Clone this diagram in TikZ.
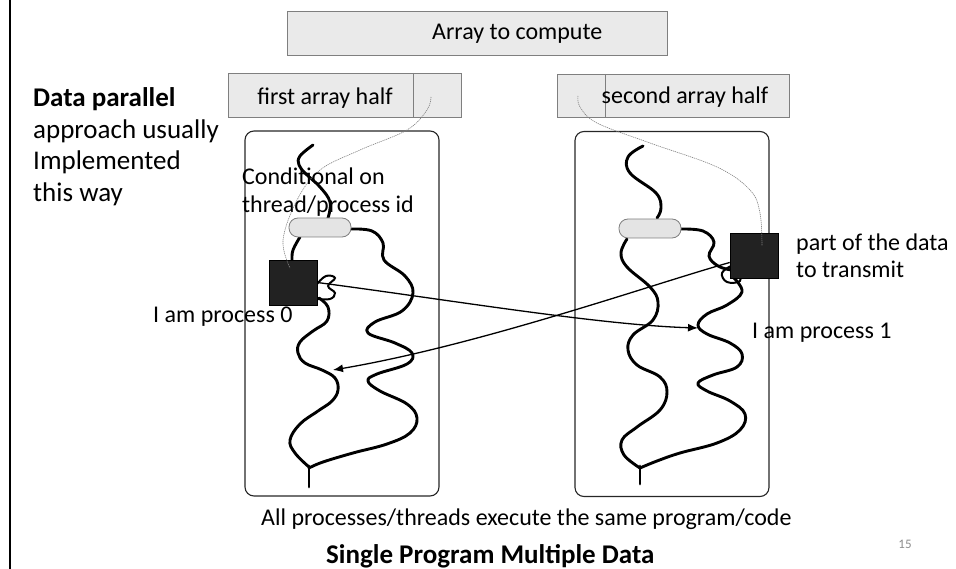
\documentclass[tikz,border=0pt]{standalone}
\usepackage{fontspec}
\setmainfont{Carlito}
\usetikzlibrary{arrows.meta}
\definecolor{cellfill}{HTML}{EAEAEA}
\definecolor{cellline}{HTML}{7F7F7F}
\definecolor{pillfill}{HTML}{E4E4E4}
\definecolor{datablock}{HTML}{222222}
\definecolor{pagegray}{HTML}{8C8C8C}
\begin{document}
\begin{tikzpicture}[x=1pt,y=-1pt,
  cell/.style={draw=cellline, fill=cellfill, line width=0.8pt, inner sep=0pt},
  procbox/.style={draw=black!85, line width=1.1pt, rounded corners=9pt, inner sep=0pt},
  pill/.style={draw=cellline, fill=pillfill, line width=0.8pt, rounded corners=9pt, inner sep=0pt, minimum width=62pt, minimum height=19pt},
  block/.style={draw=black, fill=datablock, line width=0.6pt, inner sep=0pt, minimum width=48pt, minimum height=45pt},
  thread/.style={line width=2.9pt, line cap=round, line join=round},
  msg/.style={line width=1.3pt, -{Latex[length=10pt,width=8pt]}},
  guide/.style={draw=gray, line width=0.6pt, dash pattern=on 1.2pt off 0.8pt},
  lbl/.style={font=\fontsize{24}{28}\selectfont, inner sep=0pt},
  side/.style={font=\fontsize{27}{32}\selectfont, inner sep=0pt}]
\useasboundingbox (0,0) rectangle (956,569);

% page edge on the left
\draw[line width=2.6pt] (10,0) -- (10,569);

% array and its two halves
\node[cell, minimum width=380pt, minimum height=44pt] (array) at (477,33) {};
\node[lbl, anchor=base west] (arraytxt) at (432,40) {Array to compute};
\node[cell, minimum width=233pt, minimum height=44pt] (half0) at (344.5,95) {};
\draw[cellline, line width=0.8pt] (413,73) -- (413,117);
\node[lbl, anchor=base] (half0txt) at (325,105) {first array half};
\node[cell, minimum width=232pt, minimum height=43pt] (half1) at (673,95.5) {};
\draw[cellline, line width=0.8pt] (605,74) -- (605,117);
\node[lbl, anchor=base] (half1txt) at (685,104) {second array half};

% process containers
\node[procbox, minimum width=194pt, minimum height=365pt] (proc0) at (342,313.5) {};
\node[procbox, minimum width=194pt, minimum height=365pt] (proc1) at (672,314) {};

% threads of process 0
\draw[thread] plot[smooth, tension=0.65] coordinates {(313,145) (300,156) (299,165) (306,174) (320,187) (330,202) (328,218)};
\draw[thread] plot[smooth, tension=0.65] coordinates {(300,237) (293,250) (292,260)};
\draw[thread] plot[smooth, tension=0.65] coordinates {(319,298) (328,307) (327,321) (313,331) (300,342) (298,353) (305,363) (322,370) (335,378) (338,390) (332,401) (318,411) (300,424) (290,440) (295,453) (309,467)};
\draw[thread] plot[smooth, tension=0.65] coordinates {(351,229) (372,231) (383,243) (384,260) (405,276) (413,293) (402,311) (375,322) (368,333) (395,343) (412,353) (407,364) (377,374) (368,381) (380,391) (407,404) (417,418) (410,433) (387,444) (353,453) (323,462) (309,468)};
\draw[thread] (309,466) -- (309,487);
\draw[line width=2pt] plot[smooth, tension=0.7] coordinates {(317,284) (326,276) (335,278) (328,286) (335,293) (330,299) (318,299)};

% threads of process 1
\draw[thread] plot[smooth, tension=0.65] coordinates {(643,146) (628,157) (630,173) (656,193) (661,208) (657,218)};
\draw[thread] plot[smooth, tension=0.65] coordinates {(627,239) (621,253) (627,267) (650,287) (658,302) (653,320) (633,335) (628,350) (637,365) (660,377) (667,392) (660,410) (637,427) (622,440) (624,455) (640,468)};
\draw[thread] plot[smooth, tension=0.65] coordinates {(681,229) (703,231) (714,242) (709,256) (718,266) (731,270)};
\draw[thread] plot[smooth, tension=0.65] coordinates {(734,278) (742,292) (727,305) (707,314) (698,325) (707,334) (730,343) (742,354) (737,367) (713,375) (698,383) (707,391) (730,401) (745,414) (740,430) (717,443) (680,453) (657,461) (640,468)};
\draw[thread] (640,466) -- (640,484);
\draw[line width=2pt] plot[smooth, tension=0.7] coordinates {(731,266) (722,273) (727,282) (740,281) (738,272)};

% branching points
\node[pill] (cond0) at (320,227.5) {};
\node[pill] (cond1) at (650,228.5) {};

% data blocks
\node[block] (data0) at (293,282.5) {};
\node[block] (data1) at (754,255.5) {};

% slices of the array handed to each process
\draw[guide] plot[smooth, tension=0.6] coordinates {(431,97) (427,110) (407,130) (360,150) (320,170) (297,200) (283,240) (290,268)};
\draw[guide] plot[smooth, tension=0.6] coordinates {(578,96) (580,107) (597,123) (650,143) (717,167) (750,190) (760,213) (762,246)};

% messages between the processes
\coordinate (recv0) at (333,370);
\coordinate (recv1) at (698,328);
\draw[msg] (data0.east) .. controls (450,300) and (600,325) .. (recv1);
\draw[msg] ([yshift=-7pt]data1.west) .. controls (650,285) and (480,345) .. (recv0);

% labels
\node[lbl, anchor=base west] (condA) at (242,185) {Conditional on};
\node[lbl, anchor=base west] (condB) at (242,213) {thread/process id};
\node[lbl, anchor=base west] (who0) at (153,323) {I am process 0};
\node[lbl, anchor=base west] (who1) at (752,338) {I am process 1};
\node[lbl, anchor=base west] (partA) at (796,251) {part of the data};
\node[lbl, anchor=base west] (partB) at (796,278) {to transmit};

\node[side, anchor=base west] (sideA) at (33,107) {\bfseries Data parallel};
\node[side, anchor=base west] (sideB) at (33,138.5) {approach usually};
\node[side, anchor=base west] (sideC) at (33,170) {Implemented};
\node[side, anchor=base west] (sideD) at (33,201.5) {this way};

\node[lbl, anchor=base west] (same) at (261,525) {All processes/threads execute the same program/code};
\node[lbl, anchor=base west, font=\fontsize{27}{32}\selectfont\bfseries] (title) at (326,563) {Single Program Multiple Data};
\node[anchor=base, inner sep=0pt, text=pagegray, font=\fontsize{13}{15}\selectfont] (page) at (905,548) {15};
\end{tikzpicture}
\end{document}
